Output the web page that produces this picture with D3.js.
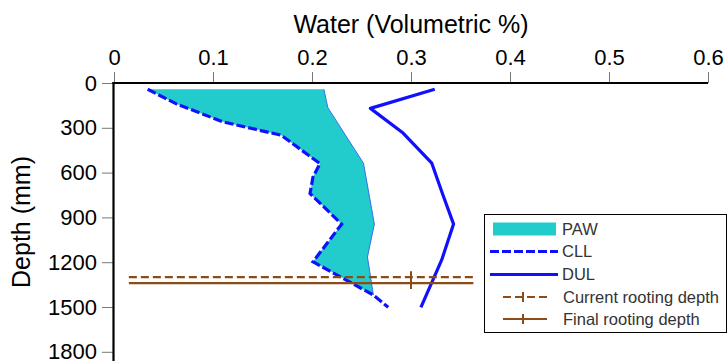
<!DOCTYPE html>
<html>
<head>
<meta charset="utf-8">
<script src="https://cdn.jsdelivr.net/npm/d3@7"></script>
<style>
  html, body { margin: 0; padding: 0; background: #fff; }
  svg { display: block; }
  text { font-family: "Liberation Sans", Arial, sans-serif; }
</style>
</head>
<body>
<svg id="chart" width="728" height="361"></svg>
<script>
// ---- Data ----
const xTicks = [0, 0.1, 0.2, 0.3, 0.4, 0.5, 0.6];
const yTicks = [0, 300, 600, 900, 1200, 1500, 1800];

// CLL (crop lower limit), dashed blue
const cllDepth = [42, 140, 260, 350, 540, 630, 740, 945, 1197, 1420, 1502];
const cllValue = [0.034, 0.063, 0.110, 0.169, 0.208, 0.201, 0.198, 0.230, 0.201, 0.262, 0.277];

// DUL (drained upper limit), solid blue
const dulDepth = [42, 170, 335, 537, 745, 945, 1185, 1502];
const dulValue = [0.324, 0.259, 0.292, 0.321, 0.332, 0.343, 0.331, 0.310];

// PAW right boundary (fill between CLL and this edge)
const pawDepth = [42, 165, 537, 945, 1165, 1420];
const pawValue = [0.212, 0.216, 0.252, 0.263, 0.256, 0.262];

// Rooting depths
const rootNames = ["Current rooting depth", "Final rooting depth"];
const rootDepths = [1300, 1340];
const rootExtent = [0.015, 0.363];
const rootMarkX = 0.3;

const legendLabels = ["PAW", "CLL", "DUL", "Current rooting depth", "Final rooting depth"];

// ---- Colours ----
const pawColor = "#22cccc";
const blue = "#1010ff";
const brown = "#8b4c17";

const svg = d3.select("#chart");

const x = d3.scaleLinear().domain([0, 0.6]).range([114, 708]);
const y = d3.scaleLinear().domain([0, 1800]).range([83, 351.8]);

// ---- PAW fill ----
const cllPts = cllDepth.map((d, i) => [cllValue[i], d]);
const dulPts = dulDepth.map((d, i) => [dulValue[i], d]);
const pawRight = pawDepth.map((d, i) => [pawValue[i], d]);
const cllToBottom = cllPts.filter(p => p[1] <= pawDepth[pawDepth.length - 1]);
const pawPoly = cllToBottom.concat(pawRight.slice().reverse());

const line = d3.line().x(p => x(p[0])).y(p => y(p[1]));

svg.append("path")
  .attr("d", line(pawPoly) + "Z")
  .attr("fill", pawColor)
  .attr("stroke", "none");

svg.append("path")
  .attr("d", line(pawRight))
  .attr("fill", "none")
  .attr("stroke", "#3a6cf0")
  .attr("stroke-width", 1);

// ---- CLL & DUL ----
svg.append("path")
  .attr("d", line(cllPts))
  .attr("fill", "none")
  .attr("stroke", blue)
  .attr("stroke-width", 3.2)
  .attr("stroke-dasharray", "9,3");

svg.append("path")
  .attr("d", line(dulPts))
  .attr("fill", "none")
  .attr("stroke", blue)
  .attr("stroke-width", 3.2)
  .attr("stroke-linejoin", "round");

// ---- Rooting depth lines ----
rootDepths.forEach((d, i) => {
  svg.append("line")
    .attr("x1", x(rootExtent[0])).attr("x2", x(rootExtent[1]))
    .attr("y1", y(d)).attr("y2", y(d))
    .attr("stroke", brown)
    .attr("stroke-width", 2.2)
    .attr("stroke-dasharray", i === 0 ? "8,4" : null);
  svg.append("line")
    .attr("x1", x(rootMarkX)).attr("x2", x(rootMarkX))
    .attr("y1", y(d) - 6).attr("y2", y(d) + 6)
    .attr("stroke", brown)
    .attr("stroke-width", 2);
});

// ---- Axes ----
const xAxis = d3.axisTop(x).tickValues(xTicks).tickFormat(d3.format("")).tickSize(11).tickPadding(7);
const gx = svg.append("g").attr("transform", "translate(0,83)").call(xAxis);
gx.select(".domain").remove();
gx.selectAll(".tick line").attr("stroke", "#777").attr("stroke-width", 1);
gx.selectAll(".tick text").attr("font-size", 22).attr("fill", "#000")
  .attr("font-family", "'Liberation Sans', Arial, sans-serif");

const yAxis = d3.axisLeft(y).tickValues(yTicks).tickFormat(d3.format("")).tickSize(11).tickPadding(5);
const gy = svg.append("g").attr("transform", "translate(113,0)").call(yAxis);
gy.select(".domain").remove();
gy.selectAll(".tick line").attr("stroke", "#777").attr("stroke-width", 1);
gy.selectAll(".tick text").attr("font-size", 22).attr("fill", "#000")
  .attr("font-family", "'Liberation Sans', Arial, sans-serif");

// axis frame lines
svg.append("line").attr("x1", 112.5).attr("x2", 708).attr("y1", 83).attr("y2", 83)
  .attr("stroke", "#000").attr("stroke-width", 2.2);
svg.append("line").attr("x1", 113.5).attr("x2", 113.5).attr("y1", 82).attr("y2", 361)
  .attr("stroke", "#000").attr("stroke-width", 2.2);

// titles
svg.append("text")
  .attr("x", 411).attr("y", 33)
  .attr("text-anchor", "middle")
  .attr("font-size", 25)
  .attr("fill", "#000")
  .text("Water (Volumetric %)");

svg.append("text")
  .attr("transform", "translate(30,222) rotate(-90)")
  .attr("text-anchor", "middle")
  .attr("font-size", 25)
  .attr("fill", "#000")
  .text("Depth (mm)");

// ---- Legend ----
const lg = svg.append("g");
lg.append("rect")
  .attr("x", 484.5).attr("y", 214.5).attr("width", 242).attr("height", 118)
  .attr("fill", "#fff").attr("stroke", "#000").attr("stroke-width", 1);

const rowY = [229, 251.5, 274.5, 297, 319];
// PAW swatch
lg.append("rect").attr("x", 493).attr("y", rowY[0] - 6.5).attr("width", 63).attr("height", 13)
  .attr("fill", pawColor);
// CLL
lg.append("line").attr("x1", 490).attr("x2", 558).attr("y1", rowY[1]).attr("y2", rowY[1])
  .attr("stroke", blue).attr("stroke-width", 3).attr("stroke-dasharray", "9,3");
// DUL
lg.append("line").attr("x1", 490).attr("x2", 558).attr("y1", rowY[2]).attr("y2", rowY[2])
  .attr("stroke", blue).attr("stroke-width", 3.2);
// rooting
[3, 4].forEach((r, i) => {
  lg.append("line").attr("x1", 503).attr("x2", 547).attr("y1", rowY[r]).attr("y2", rowY[r])
    .attr("stroke", brown).attr("stroke-width", 2.2)
    .attr("stroke-dasharray", i === 0 ? "8,4" : null);
  lg.append("line").attr("x1", 523).attr("x2", 523).attr("y1", rowY[r] - 5).attr("y2", rowY[r] + 5)
    .attr("stroke", brown).attr("stroke-width", 2);
});
legendLabels.forEach((t, i) => {
  lg.append("text")
    .attr("x", i < 3 ? 562 : 563).attr("y", rowY[i])
    .attr("dy", "0.36em")
    .attr("font-size", 16.5)
    .attr("fill", "#333")
    .text(t);
});
</script>
</body>
</html>
